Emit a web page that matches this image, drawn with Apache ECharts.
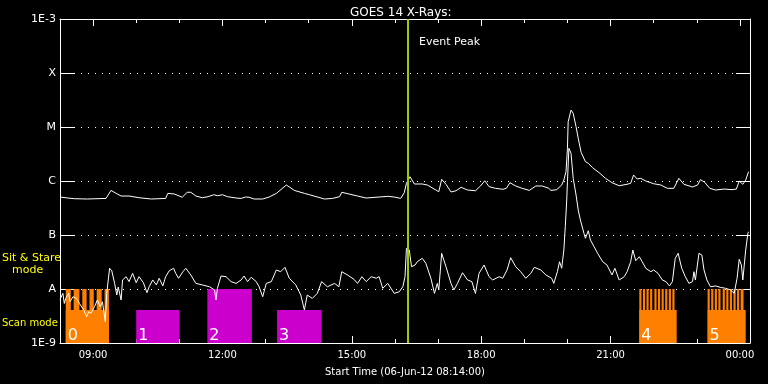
<!DOCTYPE html>
<html><head><meta charset="utf-8">
<script src="https://cdn.jsdelivr.net/npm/echarts@6/dist/echarts.min.js"></script>
<style>html,body{margin:0;padding:0;background:#000}#c{width:768px;height:384px}</style>
</head><body><div id="c"></div>
<script>
// ---- data (time of day, flux W/m^2) ----
const longTimes = [
"08:14","08:25","08:34","08:52","09:18","09:25","09:32","09:39","09:50","10:04",
"10:21","10:41","10:44","10:53","11:04","11:11","11:16","11:23","11:32","11:40",
"11:48","11:53","12:00","12:07","12:19","12:26","12:32","12:37","12:44","12:56",
"13:05","13:15","13:29","13:40","13:54","14:01","14:22","14:33","14:43","14:46",
"14:56","15:08","15:20","15:38","15:50","15:59","16:08","16:13","16:16","16:21",
"16:27","16:38","16:45","16:57","17:01","17:05","17:11","17:18","17:25","17:32",
"17:41","17:52","17:59","18:05","18:11","18:20","18:30","18:35","18:40","18:48",
"18:57","19:07","19:16","19:25","19:34","19:37","19:45","19:52","19:55","19:58",
"20:00","20:01","20:05","20:08","20:12","20:15","20:19","20:25","20:29","20:35",
"20:44","20:53","21:02","21:12","21:23","21:28","21:32","21:37","21:42","21:49",
"22:00","22:10","22:19","22:28","22:35","22:42","22:54","23:01","23:05","23:11",
"23:18","23:26","23:38","23:49","23:55","23:59","00:04","00:08","00:12"];
const longFlux = [
5.05e-7,4.84e-7,4.7e-7,4.64e-7,4.76e-7,6.7e-7,5.9e-7,5.27e-7,5.27e-7,4.9e-7,
4.64e-7,4.76e-7,5.9e-7,5.75e-7,5.0e-7,6.18e-7,6.18e-7,5.27e-7,4.9e-7,5.12e-7,
5.57e-7,5.34e-7,5.57e-7,5.12e-7,4.84e-7,4.76e-7,5.05e-7,5.0e-7,4.64e-7,4.64e-7,
5.05e-7,5.9e-7,8.43e-7,6.7e-7,5.9e-7,5.57e-7,4.64e-7,4.76e-7,5.12e-7,6.18e-7,
5.75e-7,5.27e-7,4.84e-7,5.05e-7,5.2e-7,5.05e-7,4.76e-7,6.07e-7,9.07e-7,1.2e-6,
8.8e-7,8.8e-7,8.43e-7,6.81e-7,6.33e-7,1.075e-6,8.7e-7,6.26e-7,6.6e-7,7.64e-7,
6.81e-7,6.6e-7,8.08e-7,1.01e-6,7.84e-7,7.32e-7,7.02e-7,7.32e-7,9.3e-7,8.08e-7,
7.32e-7,6.7e-7,8.08e-7,8.08e-7,7.32e-7,6.7e-7,6.9e-7,8.43e-7,1.04e-6,1.49e-6,
4.03e-6,1.25e-5,2.06e-5,1.79e-5,1.01e-5,6.18e-6,3.4e-6,2.28e-6,2.13e-6,1.76e-6,
1.43e-6,1.12e-6,9.3e-7,8.18e-7,8.7e-7,9.07e-7,1.29e-6,1.09e-6,1.12e-6,1.0e-6,
8.9e-7,8.43e-7,7.32e-7,7.32e-7,1.12e-6,8.7e-7,7.74e-7,8.43e-7,1.06e-6,9.46e-7,
7.32e-7,6.81e-7,7.1e-7,6.9e-7,7.1e-7,1.0e-6,8.7e-7,1.04e-6,1.49e-6];

const shortTimes = [
"08:14","08:18","08:20","08:22","08:26","08:28","08:32","08:37","08:41","08:47",
"08:51","08:54","08:57","09:02","09:06","09:10","09:13","09:17","09:19","09:23",
"09:26","09:30","09:33","09:35","09:39","09:41","09:46","09:50","09:55","10:00",
"10:04","10:10","10:15","10:18","10:23","10:28","10:32","10:37","10:41","10:46",
"10:52","10:55","10:59","11:05","11:09","11:16","11:23","11:32","11:42","11:49",
"11:51","11:53","11:58","12:05","12:12","12:19","12:26","12:30","12:35","12:40",
"12:47","12:51","12:56","13:01","13:08","13:15","13:21","13:27","13:33","13:42",
"13:49","13:54","13:58","14:05","14:12","14:18","14:26","14:36","14:42","14:46",
"14:54","15:03","15:08","15:14","15:20","15:27","15:34","15:38","15:43","15:50",
"15:59","16:06","16:11","16:14","16:16","16:20","16:23","16:28","16:31","16:38",
"16:43","16:50","16:55","16:59","17:01","17:05","17:11","17:18","17:22","17:27",
"17:34","17:41","17:47","17:52","17:57","18:04","18:11","18:16","18:25","18:30",
"18:36","18:41","18:48","18:55","19:02","19:09","19:14","19:23","19:30","19:38",
"19:41","19:46","19:49","19:52","19:55","19:57","19:59","20:00","20:02","20:03",
"20:05","20:08","20:12","20:15","20:18","20:23","20:25","20:29","20:32","20:37",
"20:42","20:49","20:55","21:02","21:06","21:12","21:19","21:23","21:28","21:31",
"21:35","21:40","21:44","21:49","21:56","22:00","22:06","22:12","22:17","22:22",
"22:26","22:30","22:34","22:39","22:44","22:49","22:54","22:56","22:58","23:03",
"23:07","23:10","23:14","23:19","23:26","23:33","23:40","23:47","23:52","23:56",
"23:59","00:02","00:04","00:08","00:11","00:12"];
const shortFlux = [
6.4e-9,8.3e-9,5.4e-9,6.7e-9,8.3e-9,5.8e-9,7.2e-9,6.7e-9,5.4e-9,4.1e-9,
3.07e-9,3.8e-9,3.55e-9,4.7e-9,6.26e-9,4.7e-9,5.8e-9,2.48e-9,8.3e-9,2.42e-8,
2.18e-8,1.27e-8,7.74e-9,1.09e-8,6.26e-9,1.47e-8,1.69e-8,1.37e-8,1.95e-8,1.31e-8,
1.69e-8,1.31e-8,8.55e-9,1.1e-8,1.47e-8,1.19e-8,1.58e-8,1.14e-8,1.69e-8,2.18e-8,
2.42e-8,1.95e-8,1.58e-8,2.09e-8,2.42e-8,1.82e-8,1.27e-8,1.19e-8,1.1e-8,9.6e-9,
6.26e-9,1.03e-8,1.74e-8,1.69e-8,1.37e-8,1.27e-8,1.47e-8,1.74e-8,1.37e-8,1.65e-8,
1.37e-8,1.1e-8,7.2e-9,1.27e-8,1.37e-8,2.25e-8,2.09e-8,2.52e-8,1.58e-8,1.19e-8,
7.74e-9,4.1e-9,7.74e-9,6.7e-9,8.3e-9,1.37e-8,1.1e-8,1.27e-8,1.1e-8,2.09e-8,
1.82e-8,1.51e-8,1.27e-8,1.69e-8,1.37e-8,1.69e-8,1.58e-8,1.69e-8,1.03e-8,1.27e-8,
8.3e-9,8.9e-9,1.1e-8,1.69e-8,5.67e-8,5.27e-8,2.59e-8,2.78e-8,3.2e-8,3.7e-8,
2.99e-8,1.58e-8,8.3e-9,1.27e-8,9.6e-9,4.58e-8,2.59e-8,1.27e-8,9.6e-9,1.27e-8,
2.0e-8,1.47e-8,1.37e-8,8.3e-9,1.95e-8,2.78e-8,1.69e-8,1.47e-8,1.69e-8,1.58e-8,
2.25e-8,3.8e-8,2.59e-8,2.09e-8,1.58e-8,1.95e-8,2.52e-8,2.25e-8,1.82e-8,1.58e-8,
1.27e-8,2.09e-8,3.2e-8,2.42e-8,5.27e-8,1.43e-7,4.45e-7,9.7e-7,4.03e-6,4.3e-6,
3.26e-6,1.12e-6,5.5e-7,2.9e-7,1.9e-7,1.07e-7,8.7e-8,1.2e-7,8.08e-8,6.07e-8,
4.58e-8,3.2e-8,2.78e-8,1.82e-8,2.42e-8,1.47e-8,1.69e-8,2.09e-8,3.2e-8,5.27e-8,
3.34e-8,3.96e-8,3.2e-8,2.42e-8,2.09e-8,2.25e-8,1.95e-8,1.47e-8,1.37e-8,1.14e-8,
1.37e-8,3.7e-8,4.58e-8,2.42e-8,1.69e-8,1.27e-8,1.37e-8,2.09e-8,1.47e-8,4.58e-8,
4.26e-8,2.25e-8,1.47e-8,1.1e-8,1.14e-8,1.07e-8,1.03e-8,9.6e-9,8.3e-9,1.58e-8,
3.55e-8,2.78e-8,1.47e-8,5.27e-8,1.075e-7,1.15e-7];

// observing-mode blocks
const blockStart = ["08:22","10:00","11:39","13:16","21:40","23:15"];
const blockEnd   = ["09:22","11:00","12:41","14:18","22:32","00:08"];
const blockTop   = [4.1e-9, 4.1e-9, 1e-8, 4.1e-9, 4.1e-9, 4.1e-9];
const blockKind  = ["scan","stare","stare","stare","scan","scan"];
const blockLabels = ["0","1","2","3","4","5"];
const stripeStart = ["08:22","08:33","08:45","08:55","09:05","09:16",
  "21:40","21:45","21:50","21:55","22:01","22:06","22:11","22:16","22:21","22:26",
  "23:15","23:20","23:25","23:30","23:36","23:41","23:46","23:51","23:56","00:01"];
const stripeEnd = ["08:29","08:41","08:51","09:01","09:12","09:22",
  "21:43","21:48","21:53","21:58","22:04","22:09","22:14","22:19","22:24","22:29",
  "23:18","23:23","23:28","23:33","23:39","23:44","23:49","23:54","23:59","00:05"];
const stripeTop = 1e-8;

const startTime = "08:14", endTime = "00:14";
const eventPeak = "16:18";
const hourTicks = [9,10,11,12,13,14,15,16,17,18,19,20,21,22,23,24];
const majorTicks = [9,12,15,18,21,24];
const yTickLabels = {"-9":"1E-9","-8":"A","-7":"B","-6":"C","-5":"M","-4":"X","-3":"1E-3"};

// ---- helpers ----
function toH(s){ const p=s.split(':').map(Number); let v=p[0]+p[1]/60; if(v<8) v+=24; return v; }
const pad=n=>String(n).padStart(2,'0');
const X0 = toH(startTime), X1 = toH(endTime);
const FONT = 'DejaVu Sans';
const colors = {scan:'#ff8000', stare:'#cc00cc'};

const longData = longTimes.map((t,i)=>[toH(t), longFlux[i]]);
const shortData = shortTimes.map((t,i)=>[toH(t), shortFlux[i]]);
const blockData = blockStart.map((s,i)=>[toH(s), toH(blockEnd[i]), blockTop[i], i]);
const stripeData = stripeStart.map((s,i)=>[toH(s), toH(stripeEnd[i]), stripeTop]);

function xAxisDef(pos, len, vals, showLine, showLabel){
  return {
    type:'value', position:pos, min:X0, max:X1,
    axisLine:{show:showLine, onZero:false, lineStyle:{color:'#fff', width:1}},
    axisTick:{show:true, inside:true, length:len, customValues:vals, lineStyle:{color:'#fff', width:1}},
    axisLabel:showLabel ? {show:true, customValues:majorTicks, color:'#fff', fontFamily:FONT, fontSize:10, margin:7,
      formatter:v=>pad(Math.round(v)%24)+':00'} : {show:false},
    splitLine:{show:false},
    name: showLabel ? 'Start Time (06-Jun-12 08:14:00)' : '',
    nameLocation:'middle', nameGap:24,
    nameTextStyle:{color:'#fff', fontFamily:FONT, fontSize:10}
  };
}
function yAxisDef(pos, showLabel){
  return {
    type:'log', logBase:10, position:pos, min:1e-9, max:1e-3, splitNumber:6,
    axisLine:{show:true, onZero:false, lineStyle:{color:'#fff', width:1}},
    axisTick:{show:true, inside:true, length:14, lineStyle:{color:'#fff', width:1}},
    axisLabel:showLabel ? {show:true, color:'#fff', fontFamily:FONT, fontSize:11, margin:4,
      formatter:v=>yTickLabels[String(Math.round(Math.log10(v)))] || ''} : {show:false},
    splitLine:{show:showLabel, lineStyle:{color:'#fff', width:1, type:[1,6]}},
    minorTick:{show:false}
  };
}

const chart = echarts.init(document.getElementById('c'), null, {renderer:'canvas'});
chart.setOption({
  backgroundColor:'#000',
  animation:false,
  title:{text:'GOES 14 X-Rays:', left:345, top:2, textStyle:{color:'#fff', fontFamily:FONT, fontSize:12, fontWeight:'normal'}},
  grid:{left:60, right:18, top:19, bottom:41, containLabel:false},
  xAxis:[
    xAxisDef('bottom', 4, hourTicks, true, true),
    xAxisDef('bottom', 7, majorTicks, false, false),
    xAxisDef('top', 4, hourTicks, true, false),
    xAxisDef('top', 7, majorTicks, false, false)
  ],
  yAxis:[ yAxisDef('left', true), yAxisDef('right', false) ],
  graphic:[
    {type:'text', left:2, top:253, style:{text:'Sit & Stare', fill:'#ffff00', font:'11px '+FONT}},
    {type:'text', left:12, top:265, style:{text:'mode', fill:'#ffff00', font:'11px '+FONT}},
    {type:'text', left:2, top:318, style:{text:'Scan mode', fill:'#ffff00', font:'10px '+FONT}},
    {type:'text', left:419, top:37, style:{text:'Event Peak', fill:'#ffffff', font:'11px '+FONT}}
  ],
  series:[
    {
      type:'custom', name:'blocks', xAxisIndex:0, yAxisIndex:0, data:blockData,
      encode:{x:[0,1], y:2}, silent:true,
      renderItem:function(params, api){
        const p0 = api.coord([api.value(0), api.value(2)]);
        const p1 = api.coord([api.value(1), 1e-9]);
        const idx = api.value(3);
        return {type:'group', children:[
          {type:'rect', shape:{x:p0[0], y:p0[1], width:p1[0]-p0[0], height:p1[1]-p0[1]},
           style:{fill:colors[blockKind[idx]]}},
          {type:'text', x:p0[0]+2, y:p1[1]+1, z2:10,
           style:{text:blockLabels[idx], fill:'#fff', font:'16px '+FONT, verticalAlign:'bottom', align:'left'}}
        ]};
      }
    },
    {
      type:'custom', name:'stripes', xAxisIndex:0, yAxisIndex:0, data:stripeData,
      encode:{x:[0,1], y:2}, silent:true, z:1,
      renderItem:function(params, api){
        const p0 = api.coord([api.value(0), api.value(2)]);
        const p1 = api.coord([api.value(1), 1e-9]);
        return {type:'rect', shape:{x:p0[0], y:p0[1], width:p1[0]-p0[0], height:p1[1]-p0[1]},
          style:{fill:colors.scan}};
      }
    },
    {
      type:'line', name:'1-8 A', data:longData, showSymbol:false, symbol:'none',
      lineStyle:{color:'#fff', width:1}, silent:true
    },
    {
      type:'line', name:'0.5-4 A', data:shortData, showSymbol:false, symbol:'none',
      lineStyle:{color:'#fff', width:1}, silent:true,
      markLine:{silent:true, symbol:'none', label:{show:false},
        lineStyle:{color:'#9fcc00', width:2, type:'solid'},
        data:[{xAxis:toH(eventPeak)}]}
    }
  ]
});
</script>
</body></html>
